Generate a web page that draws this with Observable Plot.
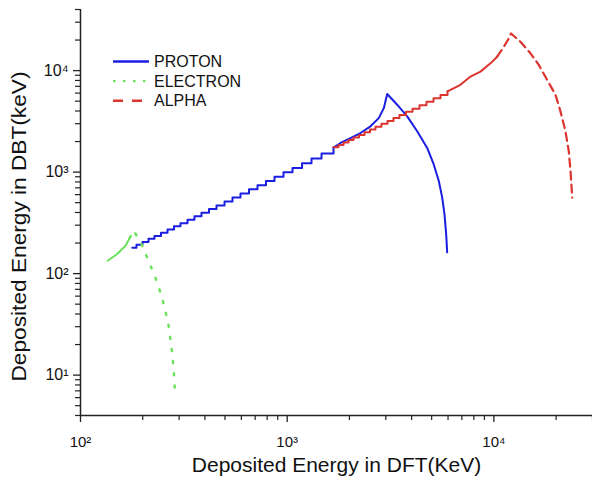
<!DOCTYPE html>
<html>
<head>
<meta charset="utf-8">
<script src="https://cdn.jsdelivr.net/npm/d3@7"></script>
<script src="https://cdn.jsdelivr.net/npm/@observablehq/plot@0.6"></script>
<style>
  html, body { margin: 0; padding: 0; background: #fff; }
  #chart { width: 592px; height: 482px; }
</style>
</head>
<body>
<div id="chart"></div>
<script>
// ---- data ----
const protonStepX = [178, 186.6, 199.5, 213.3, 228.0, 245.2, 263.6, 283.4, 304.6, 329.4, 356.0, 384.9, 418.5, 455.0, 497.5, 543.8, 594.3, 653.5, 718.3, 789.5, 868.2, 959.6, 1061, 1180, 1311, 1466, 1675];
const protonStepY = [180, 192, 205, 220, 235, 253, 272, 292, 314, 340, 367, 397, 432, 470, 514, 562, 614, 676, 743, 817, 899, 994, 1100, 1224, 1361, 1525, 1745];
const protonCurveX = [1675, 1811, 2024, 2262, 2529, 2773, 2934, 3047, 3404, 3807, 4256, 4756, 5118, 5414, 5624, 5768, 5877, 5943];
const protonCurveY = [1745, 1937, 2166, 2427, 2825, 3405, 4266, 5884, 4615, 3540, 2523, 1730, 1190, 817, 560, 385, 245, 162];

const electronSolidX = [135.4, 150.5, 165, 173];
const electronSolidY = [134, 156, 188, 224];
const electronDotX = [173, 180.5, 196.7, 216, 235, 249.6, 265.6, 275.6, 282.8, 287];
const electronDotY = [224, 267, 198, 126, 82, 55.6, 32.6, 18.9, 10.9, 6.3];

const alphaStepX = [1675, 1771, 1873, 1980, 2094, 2226, 2366, 2515, 2674, 2859, 3057, 3268, 3494, 3756, 4038, 4366, 4720, 5103, 5517, 5965];
const alphaStepY = [1755, 1851, 1957, 2069, 2188, 2326, 2472, 2628, 2794, 2988, 3195, 3415, 3651, 3925, 4220, 4562, 4932, 5333, 5765, 6233];
const alphaSolidX = [5965, 6890, 7704, 8616, 9630, 10370];
const alphaSolidY = [6233, 7245, 8730, 9775, 11790, 13710];
const alphaDashX = [10370, 11170, 11810, 12100, 13450, 15030, 16490, 18100, 19870, 21000, 22200, 23030, 23490, 23940];
const alphaDashY = [13710, 17180, 20740, 23230, 19230, 14800, 11380, 8110, 5780, 3965, 2523, 1607, 1023, 560];

const xDomain = [100, 30000];
const yDomain = [4, 40000];
const xMajorTicks = [100, 1000, 10000];
const xMinorTicks = [200, 300, 400, 500, 600, 700, 800, 900, 2000, 3000, 4000, 5000, 6000, 7000, 8000, 9000, 20000, 30000];
const yMajorTicks = [10, 100, 1000, 10000];
const yMinorTicks = [4, 5, 6, 7, 8, 9, 20, 30, 40, 50, 60, 70, 80, 90, 200, 300, 400, 500, 600, 700, 800, 900, 2000, 3000, 4000, 5000, 6000, 7000, 8000, 9000, 20000, 30000, 40000];
const tickLabelText = {2: "10²", 3: "10³", 4: "10⁴", 1: "10¹"};

const legendNames = ["PROTON", "ELECTRON", "ALPHA"];
const legendColors = ["#1a1ee0", "#6ae25a", "#dc3530"];
const legendDash = ["none", "2.5,7.5", "10,9"];

const xTitle = "Deposited Energy in DFT(KeV)";
const yTitle = "Deposited Energy in DBT(keV)";

// ---- helpers ----
const rows = (xs, ys) => xs.map((x, i) => ({x, y: ys[i]}));
const fmt = d => tickLabelText[Math.round(Math.log10(d))];
const FONT = "'Liberation Sans', Arial, sans-serif";
const AX = "#222";

const legendMark = () => {
  const g = d3.create("svg:g").attr("font-family", FONT);
  legendNames.forEach((name, i) => {
    const y = 61.5 + i * 19.6;
    g.append("line")
      .attr("x1", 113).attr("x2", 149).attr("y1", y).attr("y2", y)
      .attr("stroke", legendColors[i]).attr("stroke-width", 2.4)
      .attr("stroke-dasharray", legendDash[i]);
    g.append("text")
      .attr("x", 154).attr("y", y).attr("dy", "0.36em")
      .attr("text-anchor", "start")
      .attr("font-size", 16).attr("fill", "#111")
      .text(name);
  });
  return g.node();
};

const chart = Plot.plot({
  width: 592,
  height: 482,
  marginLeft: 80,
  marginRight: 0,
  marginTop: 9,
  marginBottom: 67,
  style: {fontFamily: FONT, background: "#fff", color: "#111"},
  x: {type: "log", domain: xDomain},
  y: {type: "log", domain: yDomain},
  marks: [
    // axis lines
    Plot.ruleY([yDomain[0]], {stroke: AX, strokeWidth: 1.5}),
    Plot.ruleX([xDomain[0]], {stroke: AX, strokeWidth: 1.5}),
    // minor ticks
    Plot.axisX(xMinorTicks, {anchor: "bottom", tickSize: 5, tickFormat: () => "", label: null, stroke: AX, strokeWidth: 1.2}),
    Plot.axisY(yMinorTicks, {anchor: "left", tickSize: 5, tickFormat: () => "", label: null, stroke: AX, strokeWidth: 1.2}),
    // major ticks + labels
    Plot.axisX(xMajorTicks, {anchor: "bottom", tickSize: 7, tickPadding: 14, fontSize: 15, tickFormat: fmt, label: null, stroke: AX, strokeWidth: 1.3}),
    Plot.axisY(yMajorTicks, {anchor: "left", tickSize: 7, tickPadding: 5, fontSize: 16, tickFormat: fmt, label: null, stroke: AX, strokeWidth: 1.3}),
    // series
    Plot.line(rows(protonStepX, protonStepY), {x: "x", y: "y", curve: "step-after", stroke: legendColors[0], strokeWidth: 2}),
    Plot.line(rows(protonCurveX, protonCurveY), {x: "x", y: "y", stroke: legendColors[0], strokeWidth: 2}),
    Plot.line(rows(electronSolidX, electronSolidY), {x: "x", y: "y", stroke: legendColors[1], strokeWidth: 2}),
    Plot.line(rows(electronDotX, electronDotY), {x: "x", y: "y", stroke: legendColors[1], strokeWidth: 2.4, strokeDasharray: "2.2,10"}),
    Plot.line(rows(alphaStepX, alphaStepY), {x: "x", y: "y", curve: "step-after", stroke: legendColors[2], strokeWidth: 2}),
    Plot.line(rows(alphaSolidX, alphaSolidY), {x: "x", y: "y", stroke: legendColors[2], strokeWidth: 2}),
    Plot.line(rows(alphaDashX, alphaDashY), {x: "x", y: "y", stroke: legendColors[2], strokeWidth: 2.2, strokeDasharray: "8,5"}),
    // axis titles
    Plot.text([xTitle], {frameAnchor: "bottom", dy: 56, fontSize: 21, fill: "#111", text: d => d}),
    Plot.text([yTitle], {frameAnchor: "left", dx: -61, dy: 14, rotate: -90, textAnchor: "middle", fontSize: 20, fill: "#111", text: d => d}),
    legendMark
  ]
});

// stretch the vertical title to the length it has in the reference
d3.select(chart).selectAll("text")
  .filter(function() { return this.textContent === yTitle; })
  .attr("textLength", 310)
  .attr("lengthAdjust", "spacingAndGlyphs");

document.getElementById("chart").appendChild(chart);
</script>
</body>
</html>
